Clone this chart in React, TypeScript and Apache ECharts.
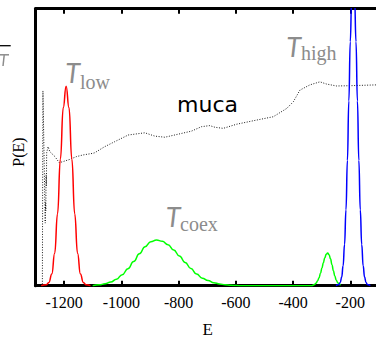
import React, { useEffect, useRef } from "react";
import * as echarts from "echarts";

// ---- data ----
const tickValues = [-1200, -1000, -800, -600, -400, -200];

const redE = [-1280, -1263, -1253, -1243, -1233, -1223, -1213, -1203, -1193, -1183, -1173, -1163, -1153, -1143, -1133, -1123, -1108];
const redP = [0, 0.3, 1.2, 4.2, 11.7, 26, 45.7, 64.3, 72, 64.3, 45.7, 26, 11.7, 4.2, 1.2, 0.3, 0];

const blueE = [-250, -240, -235, -230, -225, -220, -215, -210, -205, -200, -195, -190, -185, -180, -175, -170, -165, -160, -155, -150, -145, -140, -130];
const blueP = [0, 0.4, 1.2, 3.1, 7.2, 14.9, 27.4, 45.2, 66.7, 88.1, 104.1, 110, 104.1, 88.1, 66.7, 45.2, 27.4, 14.9, 7.2, 3.1, 1.2, 0.4, 0];

const greenE = [
  -1100, -1077, -1057, -1037, -1017, -997, -977, -957, -937, -917, -897, -877,
  -857, -837, -817, -797, -777, -757, -737, -717, -697, -677, -657, -637, -617, -597, -577,
  -334, -329, -324, -319, -314, -309, -304, -299, -294, -289, -284, -279,
  -274, -269, -264, -259, -254, -249, -244, -239, -234,
];
const greenP = [
  0, 0.31, 0.67, 1.3, 2.36, 3.95, 6.1, 8.7, 11.5, 14.1, 15.9, 16.5,
  16.06, 14.8, 12.9, 10.7, 8.4, 6.2, 4.2, 2.7, 1.85, 1.1, 0.63, 0.34, 0.17, 0.05, 0,
  0, 0.25, 0.52, 1.0, 1.8, 2.9, 4.5, 6.4, 8.3, 10.1, 11.35, 11.8,
  11.2, 9.7, 7.6, 5.4, 3.5, 2.0, 1.1, 0.5, 0.2,
];

const mucaE = [
  -1276, -1274, -1266, -1265, -1264, -1263, -1262, -1261, -1256, -1250, -1232, -1217,
  -1204, -1180, -1157, -1134, -1099, -1093, -1058, -1023, -976, -918, -883, -848,
  -801, -755, -720, -691, -673, -644, -597, -527, -469, -422, -399, -376,
  -341, -306, -283, -248, -201, -108, -50, 0,
];
const mucaP = [
  0.5, 70.3, 22.6, 30, 27, 40, 36, 48, 50.2, 48.4, 46.6, 44.4,
  44.8, 45.6, 46.6, 47.2, 47.8, 48.0, 50.2, 52.0, 54.4, 55.2, 54.0, 53.6,
  54.7, 55.8, 57.4, 57.8, 57.2, 56.8, 58.3, 59.8, 61.0, 64.0, 66.4, 70.6,
  72.5, 73.6, 72.8, 72.1, 72.2, 72.5, 72.4, 72.6,
];

const zip = (xs: number[], ys: number[]) => xs.map((x, i) => [x, ys[i]]);

const GRAY = "#8c8c8c";
const SERIF = "'Liberation Serif', 'DejaVu Serif', serif";

export default function App() {
  const ref = useRef<HTMLDivElement>(null);
  useEffect(() => {
    if (!ref.current) return;
    const chart = echarts.init(ref.current, undefined, { renderer: "svg" });
    const xBase = {
      type: "value",
      min: -1300,
      max: 0,
      splitLine: { show: false },
      axisLine: { show: true, onZero: false, lineStyle: { color: "#000", width: 3 } },
      axisTick: { show: true, inside: true, length: 5, customValues: tickValues, lineStyle: { color: "#000", width: 2 } },
    };
    const yBase = {
      type: "value",
      min: 0,
      max: 100,
      splitLine: { show: false },
      axisLine: { show: true, onZero: false, lineStyle: { color: "#000", width: 3 } },
      axisTick: { show: false },
      axisLabel: { show: false },
    };
    const lineSeries = (data: number[][], color: string) => ({
      type: "line",
      data,
      showSymbol: false,
      symbol: "none",
      smooth: true,
      smoothMonotone: "x",
      lineStyle: { color, width: 1.5 },
      clip: true,
    });
    chart.setOption({
      animation: false,
      grid: { left: 35.5, top: 8.7, width: 372, height: 277 },
      xAxis: [
        {
          ...xBase,
          position: "bottom",
          axisLabel: {
            show: true,
            customValues: tickValues,
            formatter: (v: number) => String(v),
            fontFamily: SERIF,
            fontSize: 16,
            color: "#000",
            margin: 9,
          },
        },
        { ...xBase, position: "top", axisLabel: { show: false } },
      ],
      yAxis: [
        { ...yBase, position: "left" },
        { ...yBase, position: "right" },
      ],
      series: [
        {
          type: "line",
          data: zip(mucaE, mucaP),
          showSymbol: false,
          symbol: "none",
          lineStyle: { color: "#000", width: 0.9, type: [1, 1.6] },
        },
        lineSeries(zip(redE, redP), "#ff0000"),
        lineSeries(zip(greenE, greenP), "#00ff00"),
        lineSeries(zip(blueE, blueP), "#0000ff"),
      ],
      graphic: [
        { type: "line", shape: { x1: 0, y1: 45.7, x2: 10.7, y2: 45.7 }, style: { stroke: "#000", lineWidth: 1.3 } },
        { type: "line", shape: { x1: 0, y1: 54.8, x2: 9, y2: 54.8 }, style: { stroke: GRAY, lineWidth: 1.5 } },
        { type: "line", shape: { x1: 4.2, y1: 55, x2: 3, y2: 66 }, style: { stroke: GRAY, lineWidth: 1.5 } },
        {
          type: "text", x: 18, y: 152, rotation: Math.PI / 2,
          style: { text: "P(E)", font: `16px ${SERIF}`, fill: "#000", align: "center", verticalAlign: "middle" },
        },
        {
          type: "text", x: 207.7, y: 329,
          style: { text: "E", font: `17px ${SERIF}`, lineHeight: 14, fill: "#000", align: "center", verticalAlign: "middle" },
        },
        {
          type: "text", x: 207.5, y: 104,
          style: { text: "muca", font: "22px 'DejaVu Sans', sans-serif", fill: "#000", align: "center", verticalAlign: "middle" },
        },
        // T_low
        { type: "text", x: 72.5, y: 72.5, style: { text: "T", font: "italic 27px Lato, sans-serif", fill: GRAY, align: "center", verticalAlign: "middle" } },
        { type: "text", x: 80, y: 81.5, style: { text: "low", font: `20px ${SERIF}`, fill: GRAY, align: "left", verticalAlign: "middle" } },
        // T_high
        { type: "text", x: 293.5, y: 46.7, style: { text: "T", font: "italic 27px Lato, sans-serif", fill: GRAY, align: "center", verticalAlign: "middle" } },
        { type: "text", x: 301, y: 52.5, style: { text: "high", font: `20px ${SERIF}`, fill: GRAY, align: "left", verticalAlign: "middle" } },
        // T_coex
        { type: "text", x: 173, y: 216.7, style: { text: "T", font: "italic 27px Lato, sans-serif", fill: GRAY, align: "center", verticalAlign: "middle" } },
        { type: "text", x: 180, y: 224, style: { text: "coex", font: `20px ${SERIF}`, fill: GRAY, align: "left", verticalAlign: "middle" } },
      ],
    });
    return () => chart.dispose();
  }, []);
  return (
    <div style={{ position: "fixed", left: 0, top: 0, width: 376, height: 337, overflow: "hidden", background: "#fff" }}>
      <div ref={ref} style={{ width: 420, height: 337 }} />
    </div>
  );
}
